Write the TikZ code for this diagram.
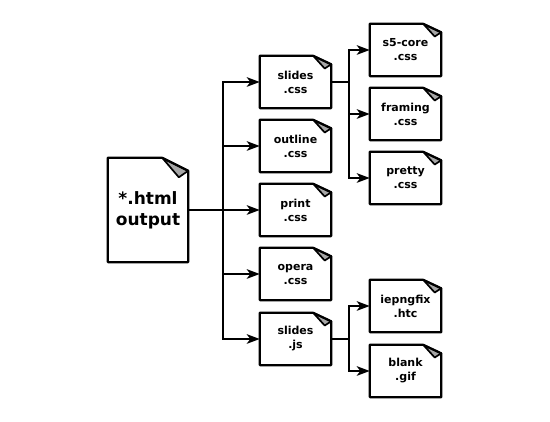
\documentclass[tikz,border=0pt]{standalone}
\usepackage{fontspec}
\setmainfont{DejaVu Sans}
\usepackage{tikz}
\usetikzlibrary{arrows.meta}

\tikzset{
    smallfile/.style={minimum width=71pt, minimum height=52pt, inner sep=0pt, align=center,
        font=\bfseries\fontsize{11}{14}\selectfont},
    bigfile/.style={minimum width=80pt, minimum height=104pt, inner sep=0pt, align=center,
        font=\bfseries\fontsize{17}{21}\selectfont},
    pageedge/.style={draw=black, line width=2.2pt, line join=bevel},
    fold/.style={draw=black, line width=1.7pt, line join=round, fill=black!35},
    link/.style={draw=black, line width=2.2pt, -{Stealth[length=13pt, width=9.5pt, inset=3.5pt]}},
    stem/.style={draw=black, line width=2.2pt}
}

% page outline with a turned corner, around a named node
\newcommand{\filebox}[3]{
    \draw[fold] ([xshift=-#2]#1.north east) -- ([yshift=-#3]#1.north east)
        -- ([xshift=-0.36*#2, yshift=-1.5*#3]#1.north east) -- cycle;
    \draw[pageedge] (#1.north west) -- ([xshift=-#2]#1.north east)
        -- ([yshift=-#3]#1.north east) -- (#1.south east) -- (#1.south west) -- cycle;
}

\begin{document}
\begin{tikzpicture}[x=1pt, y=-1pt]
    \useasboundingbox (0,0) rectangle (550,422);

    \node[bigfile] (html) at (148,210) {*.html\\output};

    \node[smallfile] (slides) at (295.5,82) {slides\\.css};
    \node[smallfile] (outlinecss) at (295.5,146) {outline\\.css};
    \node[smallfile] (print) at (295.5,210) {print\\.css};
    \node[smallfile] (opera) at (295.5,274) {opera\\.css};
    \node[smallfile] (slidesjs) at (295.5,339) {slides\\.js};

    \node[smallfile] (core) at (405.5,50) {s5-core\\.css};
    \node[smallfile] (framing) at (405.5,114) {framing\\.css};
    \node[smallfile] (pretty) at (405.5,178) {pretty\\.css};
    \node[smallfile] (iepngfix) at (405.5,306) {iepngfix\\.htc};
    \node[smallfile] (blank) at (405.5,371) {blank\\.gif};

    \coordinate (trunk) at (223,210);
    \coordinate (cssfork) at (349,82);
    \coordinate (jsfork) at (349,339);

    \draw[stem] (html.east) -- (trunk);
    \draw[link] (trunk) |- (slides.west);
    \draw[link] (trunk) |- (outlinecss.west);
    \draw[link] (trunk) -- (print.west);
    \draw[link] (trunk) |- (opera.west);
    \draw[link] (trunk) |- (slidesjs.west);

    \draw[stem] (slides.east) -- (cssfork);
    \draw[link] (cssfork) |- (core.west);
    \draw[link] (cssfork) |- (framing.west);
    \draw[link] (cssfork) |- (pretty.west);

    \draw[stem] (slidesjs.east) -- (jsfork);
    \draw[link] (jsfork) |- (iepngfix.west);
    \draw[link] (jsfork) |- (blank.west);

    \filebox{html}{26pt}{13pt}
    \foreach \name in {slides, outlinecss, print, opera, slidesjs, core, framing, pretty, iepngfix, blank}
        {\filebox{\name}{18pt}{8.5pt}}
\end{tikzpicture}
\end{document}
